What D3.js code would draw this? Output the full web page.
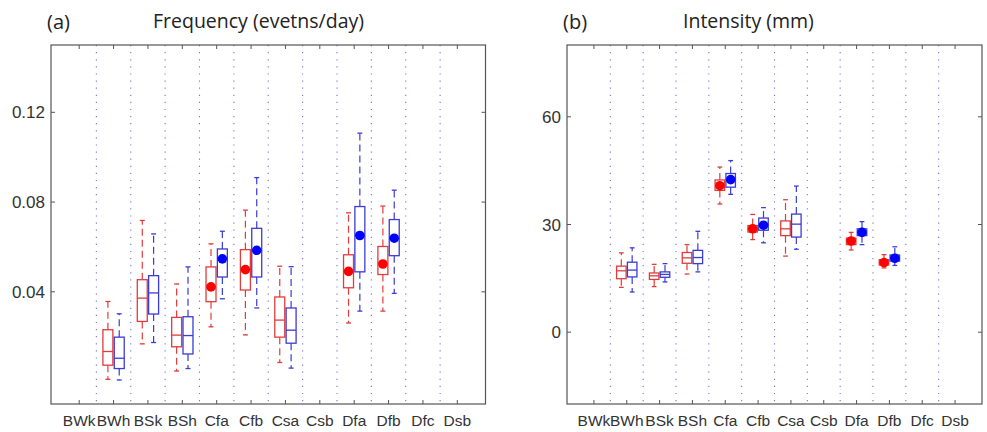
<!DOCTYPE html>
<html>
<head>
<meta charset="utf-8">
<script src="https://cdn.jsdelivr.net/npm/d3@7"></script>
<style>
  body { margin: 0; background: #fff; }
  svg { display: block; }
  .tick-label { font-family: "Liberation Sans", Arial, sans-serif; fill: #333; }
  .title { font-family: "Open Sans", "Noto Sans", sans-serif; fill: #222; }
</style>
</head>
<body>
<svg id="chart" width="987" height="432"></svg>
<script>
// climate classes on the x axis
const categories = ['BWk', 'BWh', 'BSk', 'BSh', 'Cfa', 'Cfb', 'Csa', 'Csb', 'Dfa', 'Dfb', 'Dfc', 'Dsb'];
// classes that actually have boxes, and those marked with a filled dot
const boxCats = ['BWh', 'BSk', 'BSh', 'Cfa', 'Cfb', 'Csa', 'Dfa', 'Dfb'];
const dotCats = ['Cfa', 'Cfb', 'Dfa', 'Dfb'];

// (a) frequency, events/day  (order follows boxCats)
const freqRedLo  = [0.0010, 0.0168, 0.0047, 0.0244, 0.0208, 0.0085, 0.0261, 0.0314];
const freqRedQ1  = [0.0073, 0.0268, 0.0155, 0.0356, 0.0408, 0.0198, 0.0418, 0.0477];
const freqRedMed = [0.0134, 0.0372, 0.0207, 0.0422, 0.0499, 0.0274, 0.0491, 0.0524];
const freqRedQ3  = [0.0231, 0.0454, 0.0286, 0.0511, 0.0588, 0.0377, 0.0565, 0.0602];
const freqRedHi  = [0.0357, 0.0718, 0.0435, 0.0614, 0.0764, 0.0514, 0.0752, 0.0782];

const freqBlueLo  = [0.0007, 0.0174, 0.0058, 0.0369, 0.0328, 0.0060, 0.0314, 0.0393];
const freqBlueQ1  = [0.0058, 0.0301, 0.0123, 0.0466, 0.0466, 0.0171, 0.0489, 0.0561];
const freqBlueMed = [0.0104, 0.0395, 0.0205, 0.0547, 0.0585, 0.0229, 0.0651, 0.0639];
const freqBlueQ3  = [0.0198, 0.0472, 0.0289, 0.0591, 0.0683, 0.0328, 0.0780, 0.0722];
const freqBlueHi  = [0.0302, 0.0658, 0.0511, 0.0670, 0.0909, 0.0512, 0.1107, 0.0853];

// (b) intensity, mm
const intRedLo  = [12.5, 12.7, 16.2, 35.7, 25.8, 21.2, 22.9, 17.9];
const intRedQ1  = [14.9, 14.7, 19.2, 39.5, 27.9, 26.9, 24.4, 18.7];
const intRedMed = [17.1, 15.7, 20.7, 40.8, 28.8, 28.8, 25.4, 19.4];
const intRedQ3  = [18.4, 16.5, 22.2, 42.4, 29.7, 31.0, 26.2, 20.2];
const intRedHi  = [22.1, 18.9, 24.4, 46.0, 32.8, 36.9, 27.8, 21.6];

const intBlueLo  = [11.2, 14.0, 16.8, 38.4, 24.9, 23.1, 24.4, 18.6];
const intBlueQ1  = [15.4, 15.3, 19.1, 40.4, 28.4, 26.5, 26.9, 19.8];
const intBlueMed = [17.3, 16.1, 20.8, 42.5, 29.8, 30.1, 27.8, 20.6];
const intBlueQ3  = [19.5, 16.8, 22.8, 44.2, 31.8, 32.9, 28.8, 21.5];
const intBlueHi  = [23.5, 19.1, 28.1, 47.8, 34.7, 40.7, 30.8, 23.8];

const freqTicks = [0.04, 0.08, 0.12];
const intTicks = [0, 30, 60];

function series(lo, q1, med, q3, hi) {
  return boxCats.map((c, i) => ({ cat: c, lo: lo[i], q1: q1[i], med: med[i], q3: q3[i], hi: hi[i] }));
}

const RED = { line: '#e23b3b', dot: '#ff0000' };
const BLUE = { line: '#3b3bd6', dot: '#0000ff' };

const svg = d3.select('#chart');

function drawPanel(opts) {
  const { left, right, top, bottom, yDomain, yTicks, fmt, label, title, titleX, red, blue } = opts;
  const g = svg.append('g');

  const x = d3.scaleLinear().domain([0.18, 12.82]).range([left, right]);
  const y = d3.scaleLinear().domain(yDomain).range([bottom, top]);
  const pos = c => x(categories.indexOf(c) + 1);
  const step = x(2) - x(1);

  // dotted separators between classes
  g.selectAll('.sep')
    .data(d3.range(1, categories.length))
    .enter().append('line')
    .attr('x1', d => x(d + 0.5)).attr('x2', d => x(d + 0.5))
    .attr('y1', top).attr('y2', bottom)
    .attr('stroke', '#7474d8').attr('stroke-width', 1.1)
    .attr('stroke-dasharray', '1.2,5.9');

  function drawBoxes(data, col, side) {
    const w = step * 0.29;
    const off = side * step * 0.165;
    const bg = g.append('g');
    const box = bg.selectAll('g').data(data).enter().append('g')
      .attr('transform', d => `translate(${pos(d.cat) + off},0)`);

    // dashed whiskers
    box.append('line')
      .attr('y1', d => y(d.q3)).attr('y2', d => y(d.hi))
      .attr('stroke', col.line).attr('stroke-width', 1.2).attr('stroke-dasharray', '7,4');
    box.append('line')
      .attr('y1', d => y(d.q1)).attr('y2', d => y(d.lo))
      .attr('stroke', col.line).attr('stroke-width', 1.2).attr('stroke-dasharray', '7,4');
    // caps
    box.append('line')
      .attr('x1', -w / 4).attr('x2', w / 4)
      .attr('y1', d => y(d.hi)).attr('y2', d => y(d.hi))
      .attr('stroke', col.line).attr('stroke-width', 1.3);
    box.append('line')
      .attr('x1', -w / 4).attr('x2', w / 4)
      .attr('y1', d => y(d.lo)).attr('y2', d => y(d.lo))
      .attr('stroke', col.line).attr('stroke-width', 1.3);
    // box + median
    box.append('rect')
      .attr('x', -w / 2).attr('width', w)
      .attr('y', d => y(d.q3)).attr('height', d => y(d.q1) - y(d.q3))
      .attr('fill', 'none').attr('stroke', col.line).attr('stroke-width', 1.3);
    box.append('line')
      .attr('x1', -w / 2).attr('x2', w / 2)
      .attr('y1', d => y(d.med)).attr('y2', d => y(d.med))
      .attr('stroke', col.line).attr('stroke-width', 1.3);
    // filled marker for selected classes
    box.filter(d => dotCats.includes(d.cat)).append('circle')
      .attr('cy', d => y(d.med)).attr('r', 4.8)
      .attr('fill', col.dot);
  }

  drawBoxes(red, RED, -1);
  drawBoxes(blue, BLUE, 1);

  // frame
  g.append('rect')
    .attr('x', left).attr('y', top)
    .attr('width', right - left).attr('height', bottom - top)
    .attr('fill', 'none').attr('stroke', '#555').attr('stroke-width', 1.2);

  // inward ticks on all four sides
  const tk = 4;
  g.selectAll('.xt-b').data(categories).enter().append('line')
    .attr('x1', pos).attr('x2', pos).attr('y1', bottom).attr('y2', bottom - tk)
    .attr('stroke', '#555');
  g.selectAll('.xt-t').data(categories).enter().append('line')
    .attr('x1', pos).attr('x2', pos).attr('y1', top).attr('y2', top + tk)
    .attr('stroke', '#555');
  g.selectAll('.yt-l').data(yTicks).enter().append('line')
    .attr('x1', left).attr('x2', left + tk).attr('y1', y).attr('y2', y)
    .attr('stroke', '#555');
  g.selectAll('.yt-r').data(yTicks).enter().append('line')
    .attr('x1', right).attr('x2', right - tk).attr('y1', y).attr('y2', y)
    .attr('stroke', '#555');

  // tick labels
  g.selectAll('.xl').data(categories).enter().append('text')
    .attr('class', 'tick-label')
    .attr('x', pos).attr('y', bottom + 22)
    .attr('text-anchor', 'middle').attr('font-size', 15.5)
    .text(d => d);
  g.selectAll('.yl').data(yTicks).enter().append('text')
    .attr('class', 'tick-label')
    .attr('x', left - 6).attr('y', d => y(d) + 6)
    .attr('text-anchor', 'end').attr('font-size', 17)
    .text(fmt);

  // panel letter and title
  g.append('text').attr('class', 'title')
    .attr('x', left - 4).attr('y', 29).attr('font-size', 20)
    .text(label);
  g.append('text').attr('class', 'title')
    .attr('x', titleX).attr('y', 28).attr('font-size', 19.5)
    .text(title);
}

drawPanel({
  left: 51, right: 485.5, top: 45, bottom: 404,
  yDomain: [-0.01, 0.15], yTicks: freqTicks, fmt: d3.format('.2f'),
  label: '(a)', title: 'Frequency (evetns/day)', titleX: 153,
  red: series(freqRedLo, freqRedQ1, freqRedMed, freqRedQ3, freqRedHi),
  blue: series(freqBlueLo, freqBlueQ1, freqBlueMed, freqBlueQ3, freqBlueHi)
});

drawPanel({
  left: 567, right: 982, top: 45, bottom: 404,
  yDomain: [-20, 80], yTicks: intTicks, fmt: d3.format('d'),
  label: '(b)', title: 'Intensity (mm)', titleX: 683,
  red: series(intRedLo, intRedQ1, intRedMed, intRedQ3, intRedHi),
  blue: series(intBlueLo, intBlueQ1, intBlueMed, intBlueQ3, intBlueHi)
});
</script>
</body>
</html>
